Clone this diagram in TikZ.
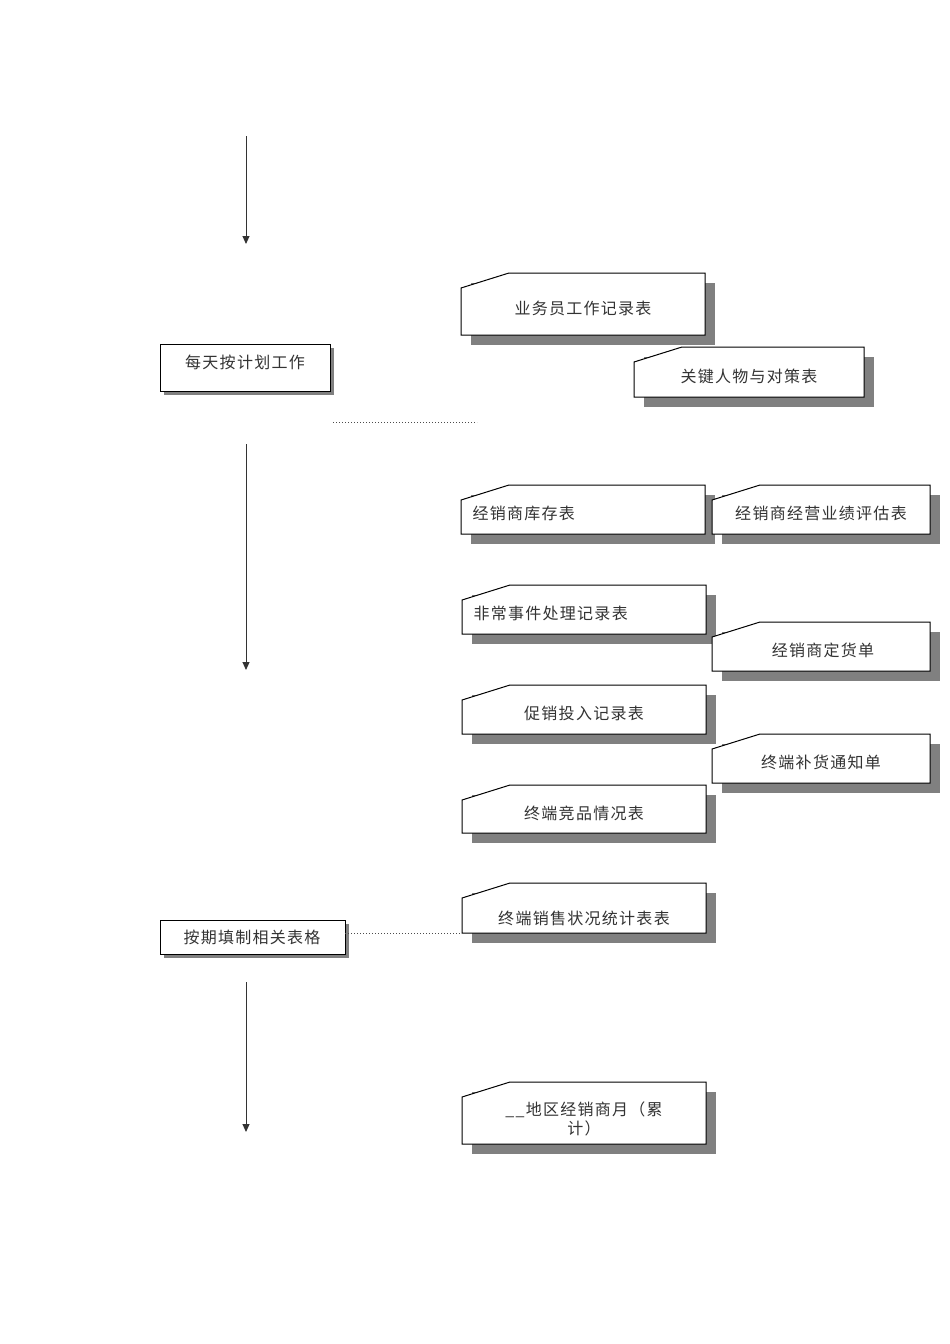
\documentclass[tikz,border=0pt]{standalone}
\usepackage{fontspec}
\setmainfont{Noto Sans CJK SC}[Scale=1]
\usetikzlibrary{arrows.meta}
\tikzset{
 txt/.style={font=\fontsize{16}{19}\selectfont\addfontfeatures{LetterSpace=8}, text=black!80},
 arr/.style={draw=black!80, line width=1pt, -{Triangle[length=8pt,width=7pt]}},
 dots/.style={draw=black!70, dotted, line width=1pt}
}
\newcommand{\card}[6]{% name, l, t, r, b, text-node options + text via #6
 \fill[black!50] (#2+10,#3+10) rectangle (#4+10,#5+10);
 \draw[fill=white, line width=1pt] (#2,#3+15) -- (#2+48,#3) -- (#4,#3) -- (#4,#5) -- (#2,#5) -- cycle;
 \coordinate (#1) at ({(#2+#4)/2},{(#3+#5)/2+4});
 \coordinate (#1-w) at (#2,{(#3+#5)/2+4});
}
\begin{document}
\begin{tikzpicture}[x=1pt,y=-1pt]
\useasboundingbox (0,0) rectangle (950,1344);
% left boxes
\fill[black!50] (164,348) rectangle (334,395);
\draw[fill=white, line width=1pt] (160,344) rectangle (330,391);
\node[txt] (b1) at (245,362) {每天按计划工作};
\fill[black!50] (164,924) rectangle (349,958);
\draw[fill=white, line width=1pt] (160,920) rectangle (345,954);
\node[txt] (b2) at (252,937) {按期填制相关表格};
\coordinate (b1e) at (333,422); \coordinate (b1f) at (477,422);
\coordinate (b2e) at (345,933);
% arrows
\coordinate (a1) at (246,136); \coordinate (a1e) at (246,244);
\coordinate (a2) at (246,444); \coordinate (a2e) at (246,670);
\coordinate (a3) at (246,982); \coordinate (a3e) at (246,1132);
\draw[arr] (a1) -- (a1e);
\draw[arr] (a2) -- (a2e);
\draw[arr] (a3) -- (a3e);
% cards
\card{c1}{461}{273}{705}{335}{} \node[txt] (t1) at (c1) {业务员工作记录表};
\card{c2}{634}{347}{864}{397}{} \node[txt] (t2) at (c2) {关键人物与对策表};
\card{c3}{461}{485}{705}{534}{} \node[txt, anchor=west] (t3) at ([xshift=8pt]c3-w) {经销商库存表};
\card{c4}{712}{485}{930}{534}{} \node[txt] (t4) at (c4) {经销商经营业绩评估表};
\card{c5}{462}{585}{706}{634}{} \node[txt, anchor=west] (t5) at ([xshift=8pt]c5-w) {非常事件处理记录表};
\card{c6}{712}{622}{930}{671}{} \node[txt] (t6) at ([xshift=2pt]c6) {经销商定货单};
\card{c7}{462}{685}{706}{734}{} \node[txt] (t7) at (c7) {促销投入记录表};
\card{c8}{712}{734}{930}{783}{} \node[txt] (t8) at (c8) {终端补货通知单};
\card{c9}{462}{785}{706}{833}{} \node[txt] (t9) at (c9) {终端竞品情况表};
\card{c10}{462}{883}{706}{933}{} \node[txt] (t10) at ([yshift=-6pt]c10) {终端销售状况统计表表};
\card{c11}{462}{1082}{706}{1144}{} \node[txt, align=center] (t11) at ([yshift=-2pt]c11) {\_\_地区经销商月（累\\计）};
\draw[dots] (b1e) -- (b1f);
\draw[dots] (b2e) -- (c10-w |- b2e);
\end{tikzpicture}
\end{document}
